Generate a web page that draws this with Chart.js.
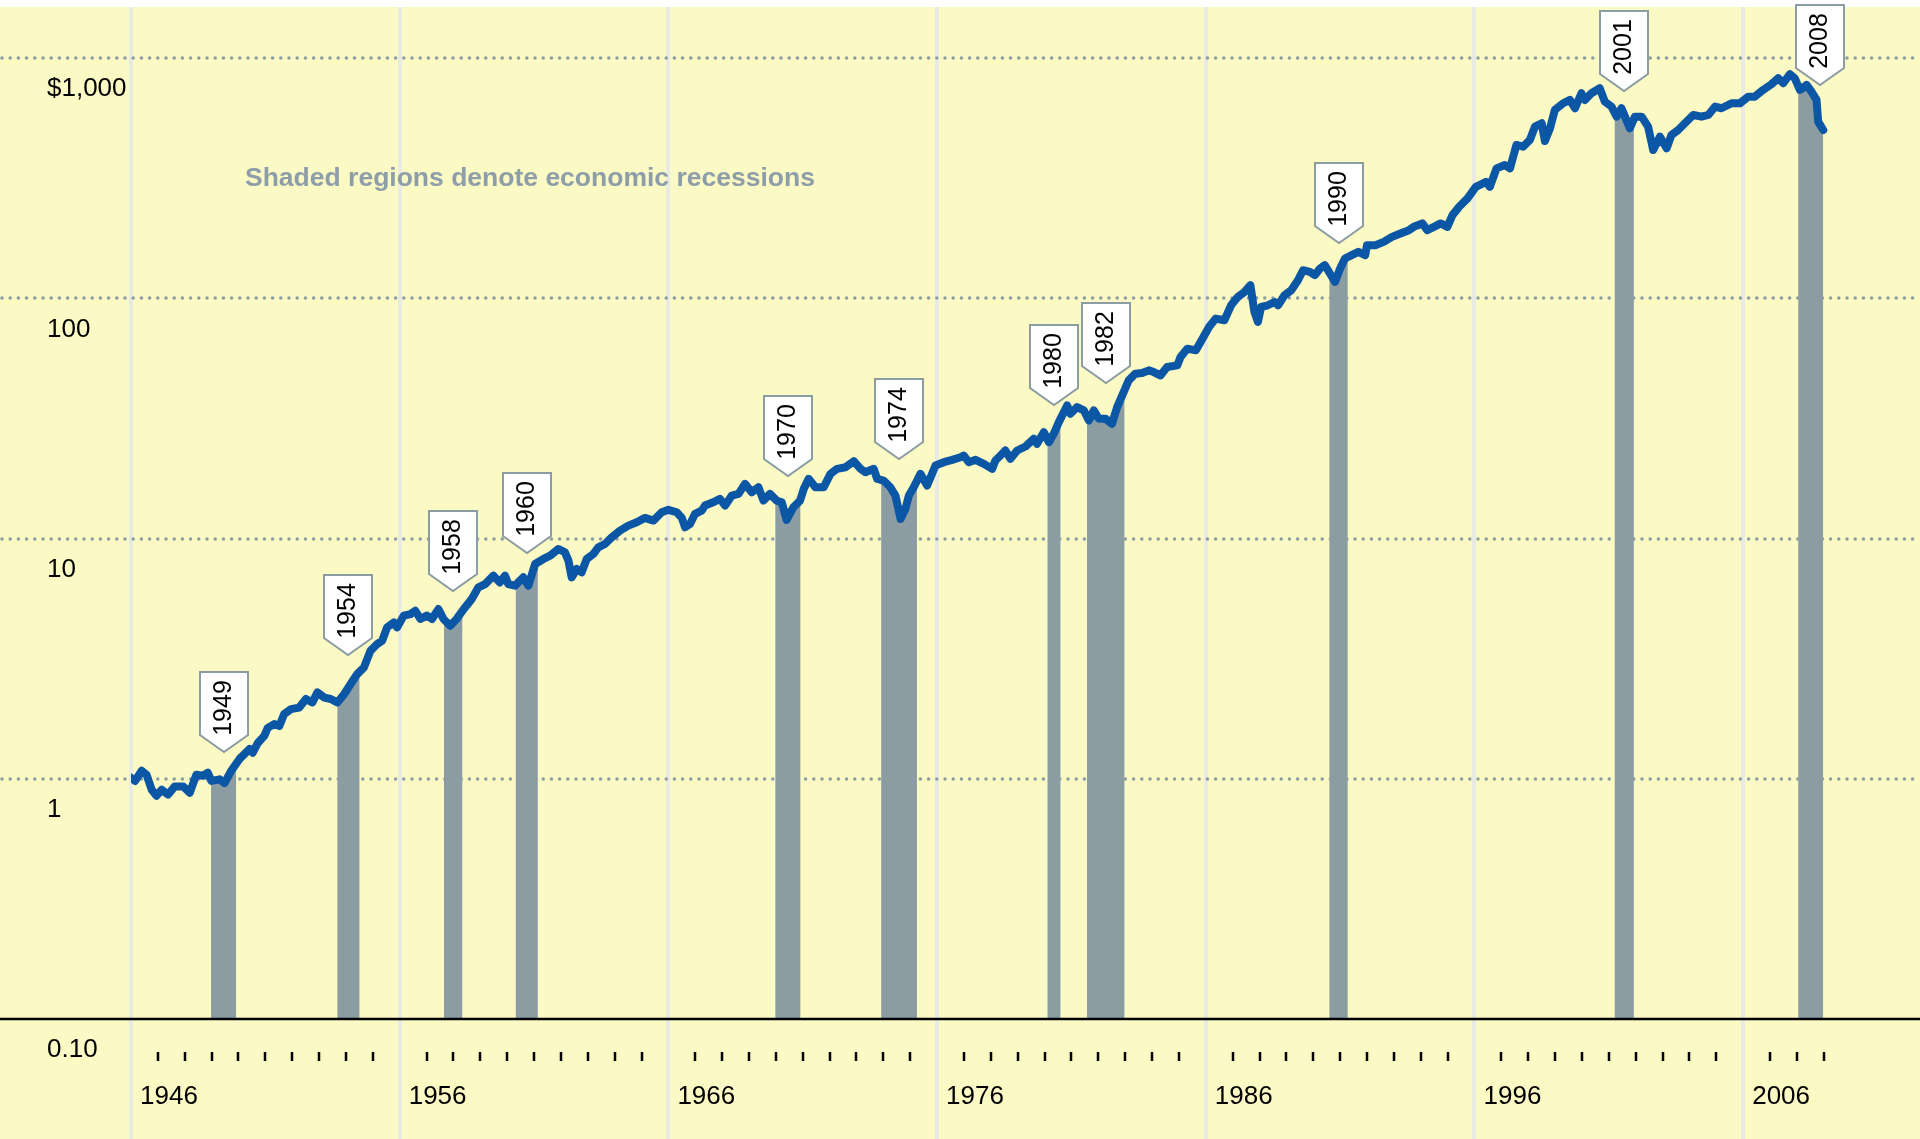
<!DOCTYPE html>
<html>
<head>
<meta charset="utf-8">
<script src="https://cdn.jsdelivr.net/npm/chart.js@4.4.0/dist/chart.umd.min.js"></script>
<style>
  html, body { margin: 0; padding: 0; background: #fff; }
  canvas { display: block; }
</style>
</head>
<body>
<canvas id="growthChart" width="1920" height="1139"></canvas>
<script>
// Growth of $1, log scale
const years = [
  1946.00, 1946.15, 1946.40, 1946.58, 1946.77, 1946.95, 1947.14, 1947.38, 1947.63, 1947.94,
  1948.19, 1948.43, 1948.68, 1948.86, 1948.99, 1949.30, 1949.48, 1949.73, 1950.04, 1950.41,
  1950.53, 1950.72, 1950.96, 1951.09, 1951.33, 1951.52, 1951.70, 1951.95, 1952.26, 1952.51,
  1952.75, 1952.94, 1953.19, 1953.43, 1953.68, 1953.93, 1954.17, 1954.42, 1954.67, 1954.91,
  1955.16, 1955.35, 1955.53, 1955.78, 1955.90, 1956.15, 1956.40, 1956.58, 1956.77, 1957.01,
  1957.20, 1957.44, 1957.63, 1957.88, 1958.12, 1958.43, 1958.68, 1958.93, 1959.18, 1959.49,
  1959.73, 1959.92, 1960.04, 1960.29, 1960.60, 1960.79, 1961.04, 1961.35, 1961.60, 1961.91,
  1962.15, 1962.28, 1962.40, 1962.59, 1962.77, 1962.96, 1963.21, 1963.39, 1963.64, 1963.89,
  1964.20, 1964.51, 1964.82, 1965.13, 1965.44, 1965.75, 1966.00, 1966.31, 1966.50, 1966.62,
  1966.81, 1966.99, 1967.24, 1967.36, 1967.67, 1967.92, 1968.11, 1968.36, 1968.61, 1968.85,
  1969.10, 1969.35, 1969.54, 1969.78, 1970.03, 1970.22, 1970.40, 1970.65, 1970.90, 1971.04,
  1971.22, 1971.47, 1971.78, 1972.03, 1972.28, 1972.59, 1972.90, 1973.15, 1973.33, 1973.64,
  1973.77, 1974.01, 1974.26, 1974.45, 1974.64, 1974.82, 1974.95, 1975.13, 1975.38, 1975.63,
  1975.94, 1976.25, 1976.56, 1976.87, 1976.99, 1977.18, 1977.43, 1977.74, 1978.05, 1978.17,
  1978.36, 1978.54, 1978.73, 1978.98, 1979.29, 1979.60, 1979.72, 1979.97, 1980.16, 1980.34,
  1980.53, 1980.84, 1980.96, 1981.21, 1981.46, 1981.65, 1981.83, 1982.02, 1982.27, 1982.51,
  1982.70, 1982.89, 1983.13, 1983.38, 1983.63, 1983.88, 1984.06, 1984.31, 1984.56, 1984.94,
  1985.06, 1985.31, 1985.63, 1985.88, 1986.12, 1986.37, 1986.69, 1986.94, 1987.19, 1987.44,
  1987.66, 1987.81, 1987.94, 1988.06, 1988.31, 1988.56, 1988.69, 1988.93, 1989.18, 1989.43,
  1989.62, 1989.87, 1990.06, 1990.25, 1990.43, 1990.62, 1990.81, 1991.00, 1991.18, 1991.43,
  1991.68, 1991.93, 1992.00, 1992.31, 1992.62, 1992.93, 1993.24, 1993.56, 1993.74, 1994.06,
  1994.24, 1994.49, 1994.74, 1994.99, 1995.18, 1995.43, 1995.74, 1996.05, 1996.43, 1996.57,
  1996.82, 1997.13, 1997.32, 1997.56, 1997.81, 1998.06, 1998.25, 1998.50, 1998.62, 1998.81,
  1998.99, 1999.30, 1999.55, 1999.74, 1999.98, 2000.11, 2000.35, 2000.66, 2000.85, 2001.10,
  2001.29, 2001.47, 2001.78, 2001.97, 2002.22, 2002.46, 2002.65, 2002.90, 2003.15, 2003.33,
  2003.58, 2003.83, 2004.14, 2004.45, 2004.70, 2004.95, 2005.19, 2005.57, 2005.88, 2006.19,
  2006.43, 2006.74, 2007.05, 2007.30, 2007.49, 2007.74, 2007.92, 2008.11, 2008.36, 2008.54,
  2008.73, 2008.79, 2008.98
];
const values = [
  1.01, 0.98, 1.08, 1.04, 0.90, 0.85, 0.90, 0.86, 0.93, 0.93,
  0.875, 1.04, 1.03, 1.06, 0.98, 0.995, 0.96, 1.08, 1.21, 1.33,
  1.285, 1.41, 1.51, 1.63, 1.69, 1.66, 1.86, 1.95, 1.98, 2.15,
  2.08, 2.29, 2.18, 2.15, 2.08, 2.25, 2.48, 2.73, 2.91, 3.41,
  3.64, 3.76, 4.27, 4.48, 4.27, 4.78, 4.85, 5.01, 4.63, 4.78,
  4.63, 5.09, 4.63, 4.34, 4.63, 5.17, 5.60, 6.27, 6.47, 7.01,
  6.57, 7.01, 6.47, 6.37, 6.90, 6.37, 7.84, 8.23, 8.49, 9.06,
  8.77, 8.10, 6.90, 7.48, 7.24, 8.23, 8.64, 9.20, 9.50, 10.13,
  10.80, 11.33, 11.70, 12.20, 11.89, 12.88, 13.18, 12.88, 12.20, 11.15,
  11.52, 12.68, 13.09, 13.73, 14.17, 14.64, 13.73, 15.11, 15.36, 16.91,
  15.60, 16.37, 14.40, 15.36, 14.40, 14.17, 11.97, 13.51, 14.40, 16.12,
  17.74, 16.37, 16.37, 18.61, 19.53, 19.83, 21.01, 19.53, 18.90, 19.53,
  17.74, 17.46, 16.37, 15.11, 12.08, 13.30, 15.11, 16.37, 18.61, 16.63,
  20.16, 20.81, 21.29, 21.83, 22.19, 20.81, 21.29, 20.49, 19.53, 21.15,
  22.19, 23.28, 21.49, 23.28, 24.19, 26.05, 24.83, 27.75, 25.21, 27.33,
  30.55, 35.86, 33.11, 35.28, 34.19, 31.05, 34.19, 31.56, 31.56, 30.08,
  35.28, 39.48, 45.60, 48.63, 48.91, 50.19, 49.37, 47.83, 51.81, 52.66,
  57.02, 61.81, 60.81, 68.06, 76.04, 82.47, 81.13, 93.67, 101.5, 106.4,
  113.5, 87.83, 79.8, 92.15, 93.67, 96.7, 93.67, 103.1, 108.2, 119.1,
  131.1, 129.0, 125.0, 133.3, 137.6, 127.0, 117.2, 133.3, 146.7, 151.4,
  156.3, 151.4, 166.7, 166.7, 172.0, 180.5, 186.5, 192.5, 198.7, 205.3,
  192.5, 198.7, 205.3, 198.7, 222.3, 240.8, 261.0, 291.7, 306.0, 291.7,
  348.1, 359.3, 348.1, 435.5, 428.4, 456.7, 519.1, 536.3, 452.3, 511.1,
  609.3, 649.8, 670.7, 619.4, 715.2, 670.7, 715.2, 750.3, 659.9, 629.0,
  571.4, 619.4, 511.1, 571.4, 571.4, 519.1, 415.0, 471.6, 421.8, 479.4,
  502.9, 536.3, 580.8, 571.4, 580.8, 629.0, 619.4, 649.8, 649.8, 692.1,
  692.1, 738.2, 779.8, 826.0, 787.4, 858.4, 826.0, 738.2, 774.6, 726.2,
  670.7, 544.5, 502.9
];

// Recessions (shaded) and the flags that name them
const recessionStart = [1948.98, 1953.68, 1957.65, 1960.32, 1969.98, 1973.92, 1980.11, 1981.58, 1990.60, 2001.22, 2008.05];
const recessionEnd   = [1949.91, 1954.50, 1958.33, 1961.14, 1970.91, 1975.25, 1980.59, 1982.97, 1991.28, 2001.93, 2009.70];
const recessionLabels = ["1949", "1954", "1958", "1960", "1970", "1974", "1980", "1982", "1990", "2001", "2008"];
const flagValues = [1.29, 3.27, 6.07, 8.68, 18.3, 21.5, 35.9, 44.4, 169.4, 731, 774];

const yTickValues = [0.1, 1, 10, 100, 1000];
const yTickLabels = ["0.10", "1", "10", "100", "$1,000"];
const xLabelYears = [1946, 1956, 1966, 1976, 1986, 1996, 2006];
const noteText = "Shaded regions denote economic recessions";

const FONT = '"Liberation Sans", Arial, sans-serif';
const YELLOW = "#FBF9C4";
const SLATE = "#8B9CA3";
const BLUE = "#0B56A5";

const points = years.map((yr, i) => ({ x: yr, y: values[i] }));

const decor = {
  id: "decor",
  beforeDraw(chart) {
    const { ctx, width, height, chartArea } = chart;
    ctx.save();
    ctx.fillStyle = YELLOW;
    ctx.fillRect(0, chartArea.top, width, height - chartArea.top);
    ctx.restore();
  },
  beforeDatasetsDraw(chart) {
    const { ctx, width, height, chartArea } = chart;
    const { x, y } = chart.scales;
    ctx.save();
    // decade lines run through the label strip
    ctx.strokeStyle = "#EAEAE4";
    ctx.lineWidth = 4;
    xLabelYears.forEach((yr) => {
      const px = Math.round(x.getPixelForValue(yr));
      ctx.beginPath();
      ctx.moveTo(px, chartArea.top);
      ctx.lineTo(px, height);
      ctx.stroke();
    });
    // dotted lines at each decade of value
    ctx.strokeStyle = SLATE;
    ctx.lineWidth = 3.5;
    ctx.lineCap = "round";
    ctx.setLineDash([0, 8.2]);
    yTickValues.slice(1).forEach((v) => {
      const py = Math.round(y.getPixelForValue(v));
      ctx.beginPath();
      ctx.moveTo(2, py);
      ctx.lineTo(width, py);
      ctx.stroke();
    });
    ctx.restore();

    // the fill dataset is drawn first; clip it to the recession spans
    ctx.save();
    ctx.beginPath();
    recessionStart.forEach((s, i) => {
      const a = x.getPixelForValue(s);
      const b = x.getPixelForValue(recessionEnd[i]);
      ctx.rect(a, 0, b - a, height);
    });
    ctx.clip();
  },
  afterDatasetDraw(chart, args) {
    if (args.index === 1) chart.ctx.restore();
  },
  afterDatasetsDraw(chart) {
    const { ctx, width, chartArea } = chart;
    const { x, y } = chart.scales;
    ctx.save();

    // base line at 0.10
    const base = Math.round(y.getPixelForValue(yTickValues[0]));
    ctx.strokeStyle = "#000";
    ctx.lineWidth = 2.5;
    ctx.beginPath();
    ctx.moveTo(0, base);
    ctx.lineTo(width, base);
    ctx.stroke();

    // yearly tick marks
    ctx.lineWidth = 2.5;
    const lastYear = Math.ceil(years[years.length - 1]);
    for (let yr = xLabelYears[0] + 1; yr <= lastYear; yr++) {
      if ((yr - xLabelYears[0]) % 10 === 0) continue;
      const px = Math.round(x.getPixelForValue(yr));
      ctx.beginPath();
      ctx.moveTo(px, chartArea.bottom + 33);
      ctx.lineTo(px, chartArea.bottom + 42);
      ctx.stroke();
    }

    // recession flags
    const w = 48, h = 80, pt = 17;
    recessionLabels.forEach((lab, i) => {
      const cx = Math.round(x.getPixelForValue((recessionStart[i] + recessionEnd[i]) / 2));
      const tip = Math.round(y.getPixelForValue(flagValues[i]));
      const top = tip - h;
      ctx.beginPath();
      ctx.moveTo(cx - w / 2, top);
      ctx.lineTo(cx + w / 2, top);
      ctx.lineTo(cx + w / 2, tip - pt);
      ctx.lineTo(cx, tip);
      ctx.lineTo(cx - w / 2, tip - pt);
      ctx.closePath();
      ctx.fillStyle = "#fff";
      ctx.fill();
      ctx.strokeStyle = SLATE;
      ctx.lineWidth = 2;
      ctx.stroke();

      ctx.save();
      ctx.translate(cx, top + 36);
      ctx.rotate(-Math.PI / 2);
      ctx.fillStyle = "#000";
      ctx.font = '25px "Liberation Sans Narrow", ' + FONT;
      ctx.textAlign = "center";
      ctx.textBaseline = "middle";
      ctx.fillText(lab, 0, 0);
      ctx.restore();
    });

    // note
    ctx.fillStyle = "#8D9EA8";
    ctx.font = "bold 26.5px " + FONT;
    ctx.textAlign = "left";
    ctx.textBaseline = "alphabetic";
    ctx.fillText(noteText, chartArea.left + 114, chartArea.top + 179);

    ctx.restore();
  }
};

const ctx = document.getElementById("growthChart").getContext("2d");
new Chart(ctx, {
  type: "line",
  data: {
    datasets: [
      {
        label: "Growth of $1",
        data: points,
        borderColor: BLUE,
        borderWidth: 8,
        borderJoinStyle: "round",
        borderCapStyle: "round",
        pointRadius: 0,
        tension: 0,
        fill: false,
      },
      {
        label: "Recessions",
        data: points,
        borderColor: "rgba(0,0,0,0)",
        borderWidth: 0,
        backgroundColor: SLATE,
        pointRadius: 0,
        tension: 0,
        fill: "start",
      },
    ],
  },
  options: {
    responsive: false,
    devicePixelRatio: 1,
    animation: false,
    events: [],
    layout: { padding: { left: 47, top: 7, right: 0, bottom: 0 } },
    plugins: {
      legend: { display: false },
      tooltip: { enabled: false },
    },
    scales: {
      x: {
        type: "linear",
        min: 1946,
        max: 2012.58,
        afterBuildTicks: (s) => { s.ticks = xLabelYears.map((v) => ({ value: v })); },
        afterFit: (s) => { s.height = 120; },
        grid: { display: false },
        border: { display: false },
        ticks: {
          autoSkip: false,
          maxRotation: 0,
          align: "start",
          labelOffset: 9,
          padding: 54,
          color: "#000",
          font: { family: FONT, size: 26 },
          callback: (v) => String(v),
        },
      },
      y: {
        type: "logarithmic",
        min: 0.1,
        max: 1635,
        afterBuildTicks: (s) => { s.ticks = yTickValues.map((v) => ({ value: v })); },
        afterFit: (s) => { s.width = 84; },
        grid: { display: false },
        border: { display: false },
        ticks: {
          autoSkip: false,
          crossAlign: "far",
          labelOffset: 31,
          padding: 0,
          color: "#000",
          font: { family: FONT, size: 26, lineHeight: 0.4 },
          callback: (v) => {
            const i = yTickValues.indexOf(v);
            return i < 0 ? "" : yTickLabels[i];
          },
        },
      },
    },
  },
  plugins: [decor],
});
</script>
</body>
</html>
